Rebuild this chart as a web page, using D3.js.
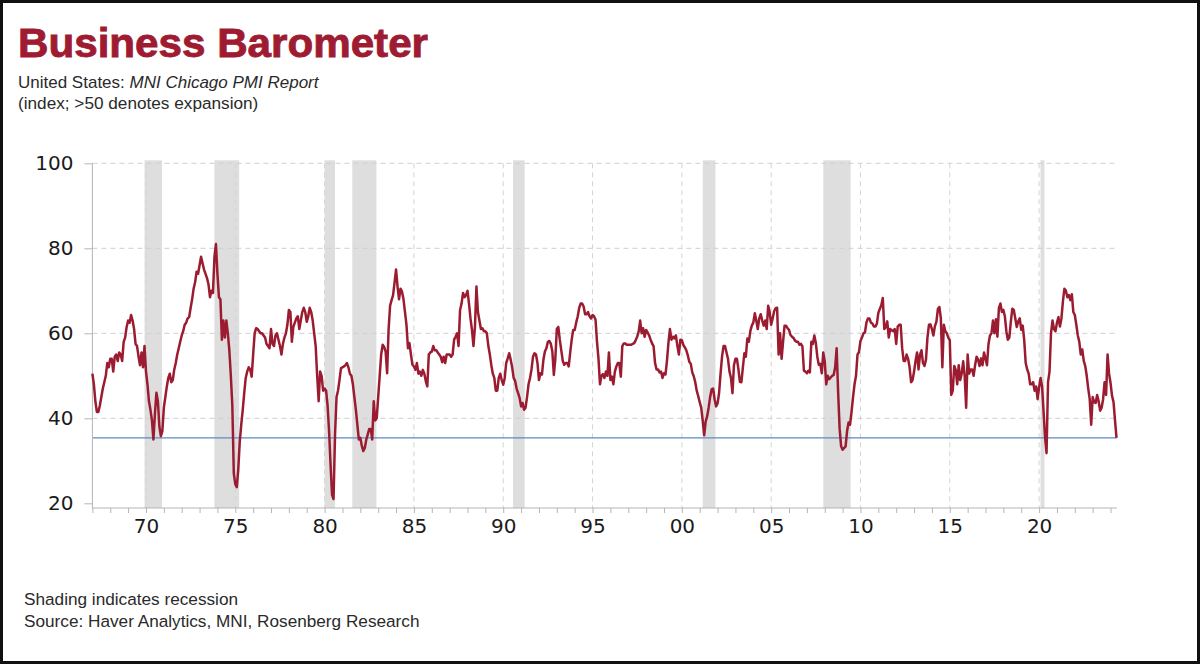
<!DOCTYPE html>
<html>
<head>
<meta charset="utf-8">
<title>Business Barometer</title>
<style>
  body { margin: 0; background: #fff; }
  svg { display: block; font-family: "Liberation Sans", Arial, sans-serif; }
</style>
</head>
<body>
<div id="chart"></div>
<script src="https://cdn.jsdelivr.net/npm/d3@7"></script>
<script>
// MNI Chicago PMI, monthly, Jan 1967 onwards
var startYear = 1967;
var pmi = [
  50.5,48,44,41.5,41.5,43,45,47,48.5,50,53,52,
  54,54,51,54.5,55,53.5,55.5,55,53.5,58,59,61.5,
  63,62.5,64.3,63,61,57.5,57,54.5,52.5,55.5,52,57,
  51,48,44,42,39.5,35,41,46,44,38,35.8,37,
  42.5,45,47.5,49.5,50.5,48.5,49,51.5,53,55,56.5,58,
  59.5,60.5,62,62.5,63.5,63.8,66,68,70.5,72,74.5,74,
  76,78,76.5,75,74,73,71.5,68.5,70,69.5,78,81,
  74,68.5,68,58.5,63,59,63,60,56,50,43,27,
  24.5,23.8,28,34.5,38.5,42,46,49.5,51,52,51.5,49.8,
  55,60,61.2,61,60.5,60,60,59.5,59,57.5,57,56.5,
  61,57.5,57,59.5,60,58.5,57,55,57.5,59,60,62,
  65.5,65,58,61.5,62.5,63.5,64,61,63,65,66,65,
  62.7,64,66,65,63,60,57,50,44,51,50,46.5,
  47,46.5,43,37,29,22,21,36,45,46.5,49,51.8,
  52,52.2,52.5,53,52,50.5,50,48,45,42,38.5,35,
  35.4,33.5,32.3,33,35,36.2,37.5,37.5,35,44,39.5,40,
  45,50,55,57.3,56.8,55.7,50.6,61,66.5,67.8,69,72,
  75,71,68,70.5,69.8,68,65,62,56.5,57.7,55,52.6,
  52.2,51.4,53,50.5,51,50,51.4,50.5,48.7,47.5,55,55.5,
  55.7,57,56,56,55.5,55,54.5,53.2,54.5,53,55,55,
  55,54.5,55,58.5,59.2,60,57,65.5,67,69.5,68.5,69,
  70,67,63.5,60.8,57,61.5,71,65,63,61,61.2,60.5,
  60.5,60,57,55,52.5,50.5,49.5,46.5,46.5,49.5,50.5,49,
  47.9,49.5,53,54.1,55.3,53.8,52,49.5,48.8,47,45.9,44.8,
  42.8,43.6,42,42.5,45,48,49.5,51.5,54.5,55.3,55,53,
  49,50.6,50.3,53.8,55.7,56.5,58,58.2,57.5,55.7,50.2,54,
  61,61.5,58.5,56,53.5,52.6,53,53,52.2,55.5,58.5,60.8,
  60.8,62.5,63.9,65.9,67,67,66.3,64.5,64.5,65,64,63.5,
  64.3,64,63.2,58,54,48,50,50.4,49.5,51,50,55.5,
  49,49.8,48,51,52.2,53,53,49.8,57,57.6,57.6,57.3,
  57.3,57.3,57.3,57.5,57.7,58.4,59.2,60.4,63,60,61.2,59.2,
  60.8,60.2,59.5,58.5,57.6,57,53,51.5,51.5,50.8,51,49.5,
  50.6,50.3,53.5,57.8,61,58.5,59.2,58.8,59.5,57,55,58.5,
  58.4,57.3,56.7,56,54.8,53.3,52.8,50.8,49.9,48.5,46.5,45.2,
  43.8,42.5,39.5,36,39.2,40.5,42.5,45,46.8,47,44.5,42.8,
  43.5,45.9,50.5,54.5,57,57,55.5,54,51,49.5,45.9,52.5,
  54,54,51.5,48.6,48.5,52,55.3,54.5,58.8,58,60.5,61.8,
  62.5,64.7,63,61,63.5,64.5,63,61.8,63,61,66.5,65,
  62,63.5,65.2,65.9,66,55,60,54,58,61.8,61.8,61.2,
  60.8,59.6,59.2,58.9,58.3,58,58,57.3,57.5,56.9,51.2,51,
  50.6,51.2,50.8,58,57.5,59.5,57.8,54.5,52.6,52.8,50.6,55.5,
  53.4,48,50,49.2,49.6,50,50.2,52,56.5,46,37.5,33.4,
  32.6,33,33.4,37,39,38.5,41.5,45,48,50,55,55.6,
  58.2,59,60,60.2,62.5,63.5,63.5,62.5,62.3,61.6,61.6,62.2,
  64.8,65.7,66.6,68.3,61,61.5,62.8,59,61,60.7,60.5,61,
  57.5,61.6,62,62,56.5,53.5,53.5,55,54,52,48.5,49,
  51,53.5,55.5,51.5,55,56,53,52.3,53.8,59,62,62.1,
  61,59.5,61.7,62.7,65.7,66.2,63.5,52,62,60.5,60,59,
  58.4,45.5,46.5,52.3,51.4,48,52.5,49,50.5,53.4,50,42.5,
  55,50.5,51.5,51.5,50,52.5,54.5,53.8,52.3,54.1,52.5,55.5,
  54,52.5,57.5,59.5,60,63,60,63.3,59.2,66,67,65,
  65.5,64,60.5,58.5,59,62.7,65.8,65.5,63.5,61.5,62.8,63.5,
  60.8,61.8,58.4,53,51.5,50.5,48,48,48.5,46.5,47.5,44.5,
  47.3,49.5,47.5,41.5,35.5,31.8,48.5,51,60,63,61,60.5,
  62.5,63.8,61.6,63.5,67.5,70.5,70,68.5,69,67.8,69.2,65,
  64.3,62,59.5,58,55,56.2,53.5,52.3,50,47,44.5,38.5,
  45,43.8,43.6,45.5,44,41.8,42.5,44.5,48.5,45.5,55,50.5,
  48.3,45.3,43.8,39.5,35.4
];

// recession periods as [start, end] in decimal years
var recessions = [
  [1969.92, 1970.90], [1973.83, 1975.22], [1980.00, 1980.58],
  [1981.55, 1982.90], [1990.55, 1991.20], [2001.17, 2001.88],
  [2007.92, 2009.45], [2020.08, 2020.30]
];

var yTicks = [20, 40, 60, 80, 100];
var xLabelYears = [1970, 1975, 1980, 1985, 1990, 1995, 2000, 2005, 2010, 2015, 2020];

var W = 1200, H = 665;
var svg = d3.select("#chart").append("svg").attr("width", W).attr("height", H);

svg.append("rect").attr("width", W).attr("height", H).attr("fill", "#fff");

var x = d3.scaleLinear().domain([1967, 2024.35]).range([92.4, 1116.8]);
var y = d3.scaleLinear().domain([20, 100]).range([503.3, 163.3]);
var axisY = 508;

var data = pmi.map(function (v, i) { return { t: startYear + i / 12, v: v }; });
var last = data[data.length - 1];

// recession shading
svg.append("g").selectAll("rect")
  .data(recessions)
  .enter().append("rect")
    .attr("x", function (d) { return x(d[0]); })
    .attr("width", function (d) { return x(d[1]) - x(d[0]); })
    .attr("y", y(100) - 3)
    .attr("height", axisY - y(100) + 3)
    .attr("fill", "#dedede");

// horizontal gridlines
svg.append("g").selectAll("line")
  .data(yTicks.filter(function (d) { return d > 20; }))
  .enter().append("line")
    .attr("x1", x(1967)).attr("x2", x.range()[1])
    .attr("y1", function (d) { return y(d); })
    .attr("y2", function (d) { return y(d); })
    .attr("stroke", "#cfcfcf")
    .attr("stroke-width", 1)
    .attr("stroke-dasharray", "5,4");

// vertical gridlines
svg.append("g").selectAll("line")
  .data(xLabelYears)
  .enter().append("line")
    .attr("x1", function (d) { return x(d); })
    .attr("x2", function (d) { return x(d); })
    .attr("y1", y(100)).attr("y2", axisY)
    .attr("stroke", "#d4d4d4")
    .attr("stroke-width", 1)
    .attr("stroke-dasharray", "5,4");

// latest value reference line
svg.append("line")
  .attr("x1", x(1967)).attr("x2", x.range()[1])
  .attr("y1", y(last.v)).attr("y2", y(last.v))
  .attr("stroke", "#5b8ac6")
  .attr("stroke-width", 1.2);

// y axis
var yAxis = d3.axisLeft(y).tickValues(yTicks).tickSize(8).tickPadding(11);
var gy = svg.append("g").attr("transform", "translate(" + x(1967) + ",0)").call(yAxis);
gy.select(".domain").attr("stroke", "#b5b5b5").attr("d", "M0," + y(100) + "V" + axisY);
gy.selectAll(".tick line").attr("stroke", "#b5b5b5");
gy.selectAll(".tick text")
  .attr("fill", "#1a1a1a")
  .style("font-size", "20px")
  .style("font-family", "'DejaVu Sans', sans-serif");

// x axis
var years = d3.range(1967, 2025);
var xAxis = d3.axisBottom(x)
  .tickValues(years)
  .tickSize(5)
  .tickPadding(6)
  .tickFormat(function (d) { return d % 5 === 0 ? String(d).slice(2) : ""; });
var gx = svg.append("g").attr("transform", "translate(0," + axisY + ")").call(xAxis);
gx.select(".domain").attr("stroke", "#b5b5b5").attr("d", "M" + x(1967) + ",0H" + x.range()[1]);
gx.selectAll(".tick line").attr("stroke", "#b5b5b5");
gx.selectAll(".tick text")
  .attr("fill", "#1a1a1a")
  .style("font-size", "20px")
  .style("font-family", "'DejaVu Sans', sans-serif");

// PMI line
var line = d3.line()
  .x(function (d) { return x(d.t); })
  .y(function (d) { return y(d.v); });

svg.append("path")
  .datum(data)
  .attr("d", line)
  .attr("fill", "none")
  .attr("stroke", "#9b1c31")
  .attr("stroke-width", 2.5)
  .attr("stroke-linejoin", "round");

// titles
svg.append("text")
  .attr("x", 18).attr("y", 57)
  .attr("textLength", 410)
  .attr("lengthAdjust", "spacingAndGlyphs")
  .style("font-family", "'Liberation Sans Narrow', 'Arial Narrow', 'Liberation Sans', sans-serif")
  .style("font-weight", "bold")
  .style("font-size", "41px")
  .attr("fill", "#9e1b32")
  .attr("stroke", "#9e1b32")
  .attr("stroke-width", 0.9)
  .text("Business Barometer");

var sub = svg.append("text")
  .attr("x", 18).attr("y", 88)
  .style("font-size", "17px")
  .attr("fill", "#2a2a2a");
sub.append("tspan").text("United States: ");
sub.append("tspan").style("font-style", "italic").text("MNI Chicago PMI Report");

svg.append("text")
  .attr("x", 18).attr("y", 109)
  .style("font-size", "17.2px")
  .attr("fill", "#2a2a2a")
  .text("(index; >50 denotes expansion)");

// footer notes
svg.selectAll("text.note")
  .data(["Shading indicates recession", "Source: Haver Analytics, MNI, Rosenberg Research"])
  .enter().append("text")
    .attr("class", "note")
    .attr("x", 24)
    .attr("y", function (d, i) { return 605 + i * 22; })
    .style("font-size", "17.2px")
    .attr("fill", "#2a2a2a")
    .text(function (d) { return d; });

// frame
svg.append("rect")
  .attr("x", 1.5).attr("y", 1.5)
  .attr("width", W - 3).attr("height", H - 4)
  .attr("fill", "none")
  .attr("stroke", "#111")
  .attr("stroke-width", 3);
</script>
</body>
</html>
